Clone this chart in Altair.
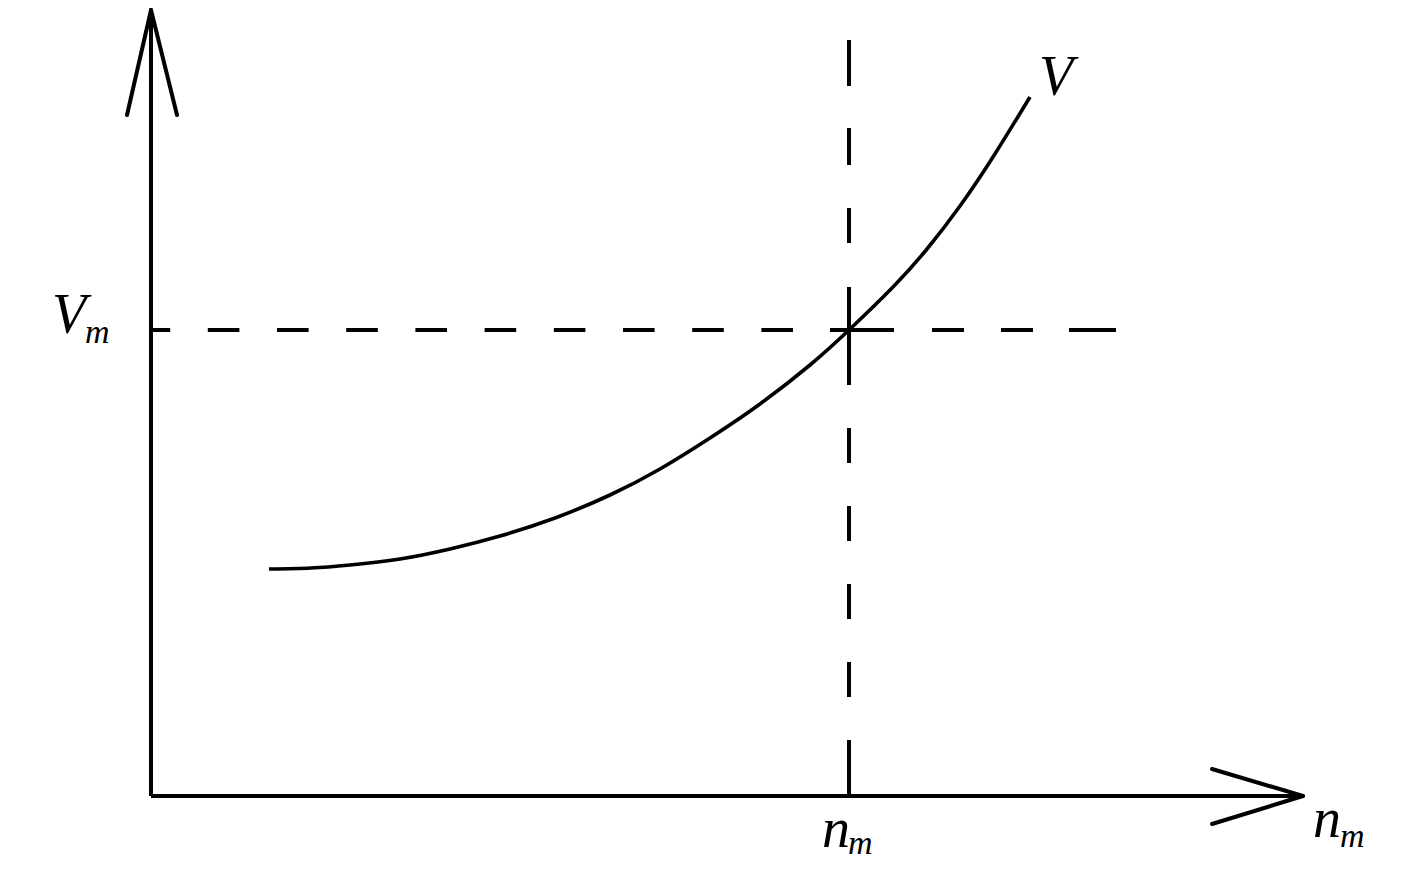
import altair as alt
import pandas as pd

# Diagram units: origin at the axes' crossing; n_m and V_m mark the guide lines
nm = 698
Vm = 466

# Curve V(n)
curve_n = [118, 160, 199, 249, 299, 349, 404, 459, 509, 559, 609, 659, 698, 742, 776, 809, 842, 879]
curve_V = [227, 228, 231, 237, 247, 260, 278, 301, 327, 358, 392, 431, 466, 509, 547, 590, 639, 699]

# Axes with arrowheads
y_axis_top = 786
x_axis_end = 1152
y_arrow = [(-24, 681), (26, 681)]
x_arrow = [(1061, 27), (1061, -28)]

# Guide lines (vertical at n_m, horizontal at V_m)
v_guide_top = 756
h_guide_end = 965

# Labels
labels_main = [("V", 888, 701), ("V", -99, 463), ("n", 671, -51), ("n", 1162, -41)]
labels_sub = [("m", -66, 453), ("m", 697, -58), ("m", 1189, -51)]

X_DOMAIN = [-143, 1256]
Y_DOMAIN = [-65, 788]

xs = alt.Scale(domain=X_DOMAIN, nice=False, zero=False)
ys = alt.Scale(domain=Y_DOMAIN, nice=False, zero=False)

LW = 4


def rules(rows, width=LW, dash=None, cap="butt"):
    df = pd.DataFrame(rows, columns=["x", "y", "x2", "y2"])
    kw = dict(color="black", strokeWidth=width, strokeCap=cap)
    if dash:
        kw["strokeDash"] = dash
    return alt.Chart(df).mark_rule(**kw).encode(
        x=alt.X("x:Q", scale=xs, axis=None),
        y=alt.Y("y:Q", scale=ys, axis=None),
        x2="x2:Q",
        y2="y2:Q",
    )


axes = rules([
    (0, 0, 0, y_axis_top),
    (0, 0, x_axis_end, 0),
])

arrows = rules(
    [(0, y_axis_top, ax, ay) for ax, ay in y_arrow]
    + [(x_axis_end, 0, ax, ay) for ax, ay in x_arrow],
    cap="round")

# vertical guide: upper dashed part, solid crossing, lower dashed part
v_up = rules([(nm, 553, nm, v_guide_top)], dash=[35, 43, 37, 42, 46])
v_mid = rules([(nm, 411, nm, 509)])
v_low = rules([(nm, 368, nm, 0)], dash=[35, 43, 35, 43, 35, 43, 35, 43, 56])

# horizontal guide: left dashed part, solid crossing, right dashed part
h_left = rules([(642, Vm, 0, Vm)], dash=[31.6, 37.6])
h_mid = rules([(679, Vm, 743, Vm)])
h_right = rules([(h_guide_end, Vm, 781, Vm)], dash=[47, 36, 32, 37, 32])

curve_df = pd.DataFrame({"n": curve_n, "V": curve_V})
curve = alt.Chart(curve_df).mark_line(
    color="black", strokeWidth=3.6, interpolate="natural"
).encode(
    x=alt.X("n:Q", scale=xs, axis=None),
    y=alt.Y("V:Q", scale=ys, axis=None),
)

main_df = pd.DataFrame(labels_main, columns=["t", "x", "y"])
sub_df = pd.DataFrame(labels_sub, columns=["t", "x", "y"])

main_txt = alt.Chart(main_df).mark_text(
    font="Liberation Serif", fontStyle="italic", fontSize=56,
    align="left", baseline="alphabetic", color="black"
).encode(
    x=alt.X("x:Q", scale=xs, axis=None),
    y=alt.Y("y:Q", scale=ys, axis=None),
    text="t:N",
)

sub_txt = alt.Chart(sub_df).mark_text(
    font="Liberation Serif", fontStyle="italic", fontSize=34,
    align="left", baseline="alphabetic", color="black"
).encode(
    x=alt.X("x:Q", scale=xs, axis=None),
    y=alt.Y("y:Q", scale=ys, axis=None),
    text="t:N",
)

chart = alt.layer(
    v_up, v_mid, v_low, h_left, h_mid, h_right, axes, arrows, curve, main_txt, sub_txt
).properties(
    width=1399,
    height=853,
    padding=0,
    autosize=alt.AutoSizeParams(type="none"),
    background="white",
).configure_view(stroke=None)

chart.save("out.html", embed_options={"renderer": "svg", "actions": False})
